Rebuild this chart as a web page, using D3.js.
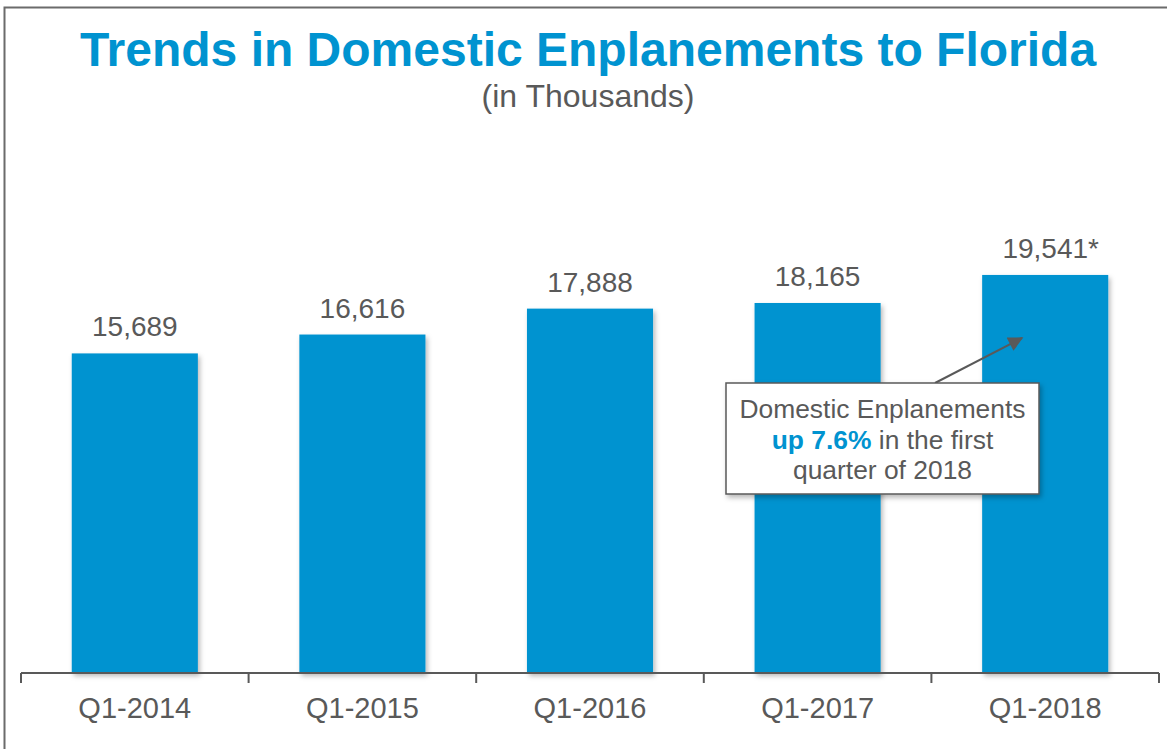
<!DOCTYPE html>
<html>
<head>
<meta charset="utf-8">
<script src="https://cdn.jsdelivr.net/npm/d3@7"></script>
<style>
  html, body { margin: 0; padding: 0; background: #fff; }
  svg { display: block; font-family: "Liberation Sans", Arial, sans-serif; }
</style>
</head>
<body>
<svg id="chart" width="1167" height="749"></svg>
<script>
// Quarterly domestic enplanements to Florida (thousands)
const quarters = ["Q1-2014", "Q1-2015", "Q1-2016", "Q1-2017", "Q1-2018"];
const enplanements = [15689, 16616, 17888, 18165, 19541];
const valueNotes = ["", "", "", "", "*"];
const calloutLines = ["Domestic Enplanements", "in the first", "quarter of 2018"];
const calloutHighlight = "up 7.6%";

const blue = "#0093d0";
const gray = "#595959";
const fmt = d3.format(",");

const svg = d3.select("#chart");

// Drop shadow for bars and callout
const defs = svg.append("defs");
const shadow = defs.append("filter").attr("id", "shadow")
  .attr("x", "-10%").attr("y", "-10%").attr("width", "130%").attr("height", "130%");
shadow.append("feDropShadow")
  .attr("dx", 2).attr("dy", 3).attr("stdDeviation", 2.5)
  .attr("flood-color", "#000").attr("flood-opacity", 0.28);

defs.append("marker").attr("id", "arrowhead")
  .attr("viewBox", "0 0 10 10").attr("refX", 9).attr("refY", 5)
  .attr("markerWidth", 8).attr("markerHeight", 7.5).attr("markerUnits", "strokeWidth")
  .attr("orient", "auto")
  .append("path").attr("d", "M0,0 L10,5 L0,10 Z").attr("fill", gray);

// Frame
svg.append("rect")
  .attr("x", 4.5).attr("y", 7.5).attr("width", 1200).attr("height", 800)
  .attr("fill", "none").attr("stroke", "#6b6b6b").attr("stroke-width", 2);

// Title
svg.append("text")
  .attr("x", 588).attr("y", 66).attr("text-anchor", "middle")
  .attr("font-size", 48).attr("font-weight", "bold").attr("fill", blue)
  .text("Trends in Domestic Enplanements to Florida");

svg.append("text")
  .attr("x", 588).attr("y", 107).attr("text-anchor", "middle")
  .attr("font-size", 32).attr("fill", gray)
  .text("(in Thousands)");

// Scales
const x = d3.scaleBand().domain(quarters).range([21, 1159])
  .paddingInner(0.446).paddingOuter(0.223);
const slot = (1159 - 21) / quarters.length;
const y = d3.scaleLinear().domain([0, 20000]).range([673, 265.6]);

// Bars
svg.append("g").selectAll("rect").data(quarters).join("rect")
  .attr("x", d => x(d))
  .attr("y", (d, i) => y(enplanements[i]))
  .attr("width", x.bandwidth())
  .attr("height", (d, i) => y(0) - y(enplanements[i]))
  .attr("fill", blue)
  .attr("filter", "url(#shadow)");

// Value labels: number centred over the bar, footnote mark trailing it
const labels = svg.append("g").selectAll("g").data(quarters).join("g")
  .attr("transform", (d, i) => `translate(${x(d) + x.bandwidth() / 2},${y(enplanements[i]) - 17})`);
labels.append("text")
  .attr("text-anchor", "middle")
  .attr("font-size", 28).attr("fill", gray)
  .text((d, i) => fmt(enplanements[i]));
labels.append("text")
  .attr("x", function() { return this.previousSibling.getComputedTextLength() / 2; })
  .attr("font-size", 28).attr("fill", gray)
  .text((d, i) => valueNotes[i]);

// Category axis with ticks at slot boundaries
const axis = svg.append("g").attr("transform", `translate(0,${y(0)})`);
axis.append("line")
  .attr("x1", 21).attr("x2", 1159).attr("y1", 0).attr("y2", 0)
  .attr("stroke", gray).attr("stroke-width", 2);
axis.selectAll("line.tick").data(d3.range(quarters.length + 1)).join("line")
  .attr("class", "tick")
  .attr("x1", i => 21 + i * slot).attr("x2", i => 21 + i * slot)
  .attr("y1", 0).attr("y2", 10)
  .attr("stroke", gray).attr("stroke-width", 2);
axis.selectAll("text").data(quarters).join("text")
  .attr("x", d => x(d) + x.bandwidth() / 2)
  .attr("y", 45)
  .attr("text-anchor", "middle")
  .attr("font-size", 29).attr("fill", gray)
  .text(d => d);

// Callout box with arrow pointing to the latest bar
const box = { x: 726, y: 383, w: 313, h: 111 };
svg.append("line")
  .attr("x1", 935).attr("y1", box.y)
  .attr("x2", 1022).attr("y2", 338)
  .attr("stroke", gray).attr("stroke-width", 2)
  .attr("marker-end", "url(#arrowhead)");

svg.append("rect")
  .attr("x", box.x).attr("y", box.y).attr("width", box.w).attr("height", box.h)
  .attr("fill", "#fff").attr("stroke", gray).attr("stroke-width", 1.5)
  .attr("filter", "url(#shadow)");

const cx = box.x + box.w / 2;
const callout = svg.append("text")
  .attr("text-anchor", "middle").attr("font-size", 26.4).attr("fill", gray);
callout.append("tspan").attr("x", cx).attr("y", 418).text(calloutLines[0]);
const line2 = callout.append("tspan").attr("x", cx).attr("y", 449);
line2.append("tspan").attr("font-weight", "bold").attr("fill", blue).text(calloutHighlight);
line2.append("tspan").text(" " + calloutLines[1]);
callout.append("tspan").attr("x", cx).attr("y", 479).text(calloutLines[2]);
</script>
</body>
</html>
